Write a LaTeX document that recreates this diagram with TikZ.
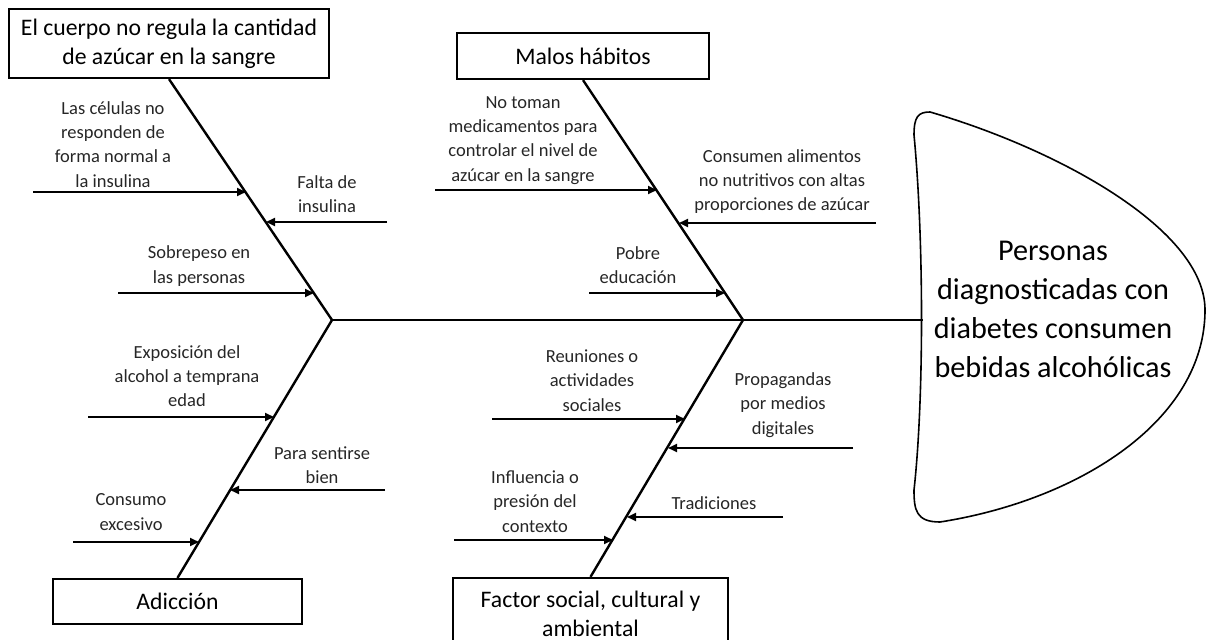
\documentclass[tikz,border=0pt]{standalone}
\usepackage{fontspec}
\setmainfont{Carlito}
\usetikzlibrary{arrows.meta}

\tikzset{
  hueso/.style={line width=1.2pt},
  causa/.style={line width=1pt, -{Triangle[length=4.5pt,width=4pt]}},
  etiqueta/.style={align=center, inner sep=0pt, text=black!85, font=\fontsize{9.25}{12.15}\selectfont},
  caja/.style={draw, line width=1.1pt, align=center, inner sep=0pt, font=\fontsize{11.85}{14.5}\selectfont},
}

\begin{document}
\begin{tikzpicture}[x=0.5pt, y=-0.5pt]
  \useasboundingbox (0,0) rectangle (1208,640);

  % Spine
  \coordinate (espinaI) at (332,320);
  \coordinate (nudo) at (743,320);
  \coordinate (espinaD) at (923,320);

  % Category boxes
  \node[caja, minimum width=160pt, minimum height=34.5pt] (cuerpo) at (169,43.5)
    {El cuerpo no regula la cantidad\\de azúcar en la sangre};
  \node[caja, minimum width=126pt, minimum height=23pt] (malos) at (583,56) {Malos hábitos};
  \node[caja, minimum width=124.5pt, minimum height=22.5pt] (adiccion) at (177.5,601.5) {Adicción};
  \node[caja, minimum width=137.5pt, minimum height=35.5pt] (factor) at (590.5,613.5)
    {Factor social, cultural y\\ambiental};

  % Head
  \draw[line width=0.8pt] (930,112) .. controls (1060,150) and (1205,230) .. (1205,310)
    .. controls (1205,420) and (1080,500) .. (940,522)
    .. controls (916,522) and (914,510) .. (914,490)
    .. controls (924,400) and (924,240) .. (914,135)
    .. controls (914,117) and (918,112) .. (930,112) -- cycle;
  \node[align=center, inner sep=0pt, font=\fontsize{15.1}{19.5}\selectfont] (cabeza) at (1053,309)
    {Personas\\diagnosticadas con\\diabetes consumen\\bebidas alcohólicas};

  % Bones
  \draw[hueso] (espinaI) -- (espinaD);
  \draw[hueso] (cuerpo.south) -- (espinaI);
  \draw[hueso] (malos.south) -- (nudo);
  \draw[hueso] (adiccion.north) -- (espinaI);
  \draw[hueso] (factor.north) -- (nudo);

  % Causes: name/start/tip/y
  \foreach \n/\xa/\xb/\y in {a1/33/246/192, a2/387/266/222, a3/118/314/293,
      b1/435/657/190, b2/876/679/223, b3/589/725/293,
      c1/88/274/417, c2/385/230/490, c3/73/199/542,
      d1/492/685/419, d2/853/668/448, d3/454/613/540, d4/783/627/517} {
    \coordinate (\n-s) at (\xa,\y);
    \coordinate (\n-t) at (\xb,\y);
    \draw[causa] (\n-s) -- (\n-t);
  }

  % Labels
  \node[etiqueta] (celulas) at (113,144.5) {Las células no\\responden de\\forma normal a\\la insulina};
  \node[etiqueta] (falta) at (327,194) {Falta de\\insulina};
  \node[etiqueta] (sobrepeso) at (199,266) {Sobrepeso en\\las personas};
  \node[etiqueta] (notoman) at (523,140.5) {No toman\\medicamentos para\\controlar el nivel de\\azúcar en la sangre};
  \node[etiqueta] (consumen) at (782,181.5) {Consumen alimentos\\no nutritivos con altas\\proporciones de azúcar};
  \node[etiqueta] (pobre) at (638,265) {Pobre\\educación};
  \node[etiqueta] (exposicion) at (187,376) {Exposición del\\alcohol a temprana\\edad};
  \node[etiqueta] (sentirse) at (322,465.5) {Para sentirse\\bien};
  \node[etiqueta] (consumo) at (131,512) {Consumo\\excesivo};
  \node[etiqueta] (reuniones) at (592,380.5) {Reuniones o\\actividades\\sociales};
  \node[etiqueta] (propaganda) at (783,405) {Propagandas\\por medios\\digitales};
  \node[etiqueta] (influencia) at (535,501.5) {Influencia o\\presión del\\contexto};
  \node[etiqueta] (tradiciones) at (714,503) {Tradiciones};
\end{tikzpicture}
\end{document}
